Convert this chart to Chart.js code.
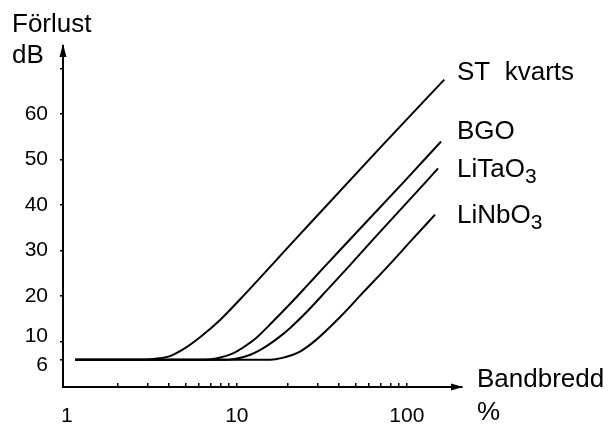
<!DOCTYPE html>
<html>
<head>
<meta charset="utf-8">
<script src="https://cdn.jsdelivr.net/npm/chart.js@4/dist/chart.umd.min.js"></script>
<style>
  html, body { margin: 0; padding: 0; background: #fff; }
  #wrap { width: 609px; height: 425px; }
</style>
</head>
<body>
<div id="wrap"><canvas id="chart" width="609" height="425"></canvas></div>
<script>
// axis ticks
const X_TICKS = [1, 2, 3, 4, 5, 6, 7, 8, 9, 10, 20, 30, 40, 50, 60, 70, 80, 90, 100];
const X_LABELS = [1, 10, 100];
const Y_TICKS = [6, 10, 20, 30, 40, 50, 60, 70];
const Y_LABELS = ['6', '10', '20', '30', '40', '50', '60', ''];

// curves (bandwidth %, loss dB)
const ST_X = [1.12, 2.9, 3.5, 4.05, 4.8, 6.1, 8.0, 10.4, 22, 68, 166];
const ST_Y = [6, 6, 6.3, 6.8, 8.2, 11.0, 14.8, 19.2, 32.4, 52.2, 67.6];

const BGO_X = [1.12, 6.5, 8, 9.5, 11, 13, 16.3, 20.6, 25.9, 32.1, 46.4, 97.6, 159];
const BGO_Y = [6, 6, 6.5, 7.4, 8.8, 10.8, 14.4, 18.3, 22.3, 26.1, 32.5, 45.4, 54.0];

const LITAO_X = [1.12, 8.9, 10.4, 12, 13.5, 15.1, 17.5, 20.6, 25.9, 33.9, 44.5, 62.4, 131.5, 152.6];
const LITAO_Y = [6, 6, 6.4, 7.1, 8.0, 9.1, 10.8, 13.0, 16.6, 21.3, 26.1, 32.2, 45.4, 48.1];

const LINBO_X = [1.12, 15.7, 18.5, 23.5, 28.9, 40.5, 55.3, 77.5, 107.3, 146.5];
const LINBO_Y = [6, 6, 6.4, 7.8, 10.2, 15.4, 20.8, 26.6, 32.4, 37.9];

const FONT = 'Liberation Sans, Arial, sans-serif';

function pairs(xs, ys) {
  return xs.map((x, i) => ({ x: x, y: ys[i] }));
}

function curve(label, xs, ys) {
  return {
    label: label,
    data: pairs(xs, ys),
    borderColor: '#000',
    borderWidth: 2,
    pointRadius: 0,
    fill: false,
    cubicInterpolationMode: 'monotone'
  };
}

// text and arrows around the axes
const decor = {
  id: 'decor',
  afterDraw(chart) {
    const ctx = chart.ctx;
    const a = chart.chartArea;
    ctx.save();
    ctx.fillStyle = '#000';

    // arrow heads
    ctx.beginPath();
    ctx.moveTo(a.left, a.top - 2);
    ctx.lineTo(a.left - 3.5, a.top + 11);
    ctx.lineTo(a.left + 3.5, a.top + 11);
    ctx.closePath();
    ctx.fill();
    ctx.beginPath();
    ctx.moveTo(a.right + 1, a.bottom);
    ctx.lineTo(a.right - 11, a.bottom - 3.5);
    ctx.lineTo(a.right - 11, a.bottom + 3.5);
    ctx.closePath();
    ctx.fill();

    ctx.textBaseline = 'alphabetic';
    ctx.textAlign = 'left';
    ctx.font = '26px ' + FONT;
    ctx.fillText('Förlust', 12, 32);
    ctx.fillText('dB', 12, 63);
    ctx.fillText('Bandbredd', 477, 387);
    ctx.fillText('%', 477, 420);

    ctx.fillText('ST  kvarts', 457, 80);
    ctx.fillText('BGO', 457, 139);

    function withSub(main, sub, x, y) {
      ctx.font = '26px ' + FONT;
      ctx.fillText(main, x, y);
      const w = ctx.measureText(main).width;
      ctx.font = '21px ' + FONT;
      ctx.fillText(sub, x + w, y + 6);
    }
    withSub('LiTaO', '3', 457, 177);
    withSub('LiNbO', '3', 457, 223);
    ctx.restore();
  }
};

new Chart(document.getElementById('chart'), {
  type: 'line',
  data: {
    datasets: [
      curve('ST  kvarts', ST_X, ST_Y),
      curve('BGO', BGO_X, BGO_Y),
      curve('LiTaO3', LITAO_X, LITAO_Y),
      curve('LiNbO3', LINBO_X, LINBO_Y)
    ]
  },
  options: {
    responsive: false,
    animation: false,
    layout: { padding: { top: 46, right: 147, left: 0, bottom: 0 } },
    plugins: {
      legend: { display: false },
      tooltip: { enabled: false }
    },
    scales: {
      x: {
        type: 'logarithmic',
        min: 0.95,
        max: 211,
        afterBuildTicks: function (scale) {
          scale.ticks = X_TICKS.map(v => ({ value: v }));
        },
        afterFit: function (scale) { scale.height = 38; },
        border: { display: true, color: '#000', width: 2 },
        grid: {
          drawOnChartArea: false,
          drawTicks: true,
          tickLength: -4,   // marks point up into the plot, as in the original
          lineWidth: 1.5,
          color: ctx => (ctx.tick && ctx.tick.value === 1) ? 'rgba(0,0,0,0)' : '#000'
        },
        ticks: {
          autoSkip: false,
          maxRotation: 0,
          padding: 21,
          color: '#000',
          font: { family: FONT, size: 21 },
          callback: v => X_LABELS.includes(v) ? String(v) : ''
        }
      },
      y: {
        type: 'linear',
        min: 0,
        max: 75,
        afterBuildTicks: function (scale) {
          scale.ticks = Y_TICKS.map(v => ({ value: v }));
        },
        afterFit: function (scale) { scale.width = 63; },
        border: { display: true, color: '#000', width: 2 },
        grid: {
          drawOnChartArea: false,
          drawTicks: true,
          tickLength: 3,
          lineWidth: 1.5,
          color: '#000'
        },
        ticks: {
          padding: 12,
          color: '#000',
          font: { family: FONT, size: 21, lineHeight: 0.5 },
          callback: function (v) {
            const lab = Y_LABELS[Y_TICKS.indexOf(v)];
            // the two lowest labels are pushed apart so they do not touch
            if (v === Y_TICKS[0]) return ['', lab];
            if (v === Y_TICKS[1]) return [lab, ''];
            return lab;
          }
        }
      }
    }
  },
  plugins: [decor]
});
</script>
</body>
</html>
